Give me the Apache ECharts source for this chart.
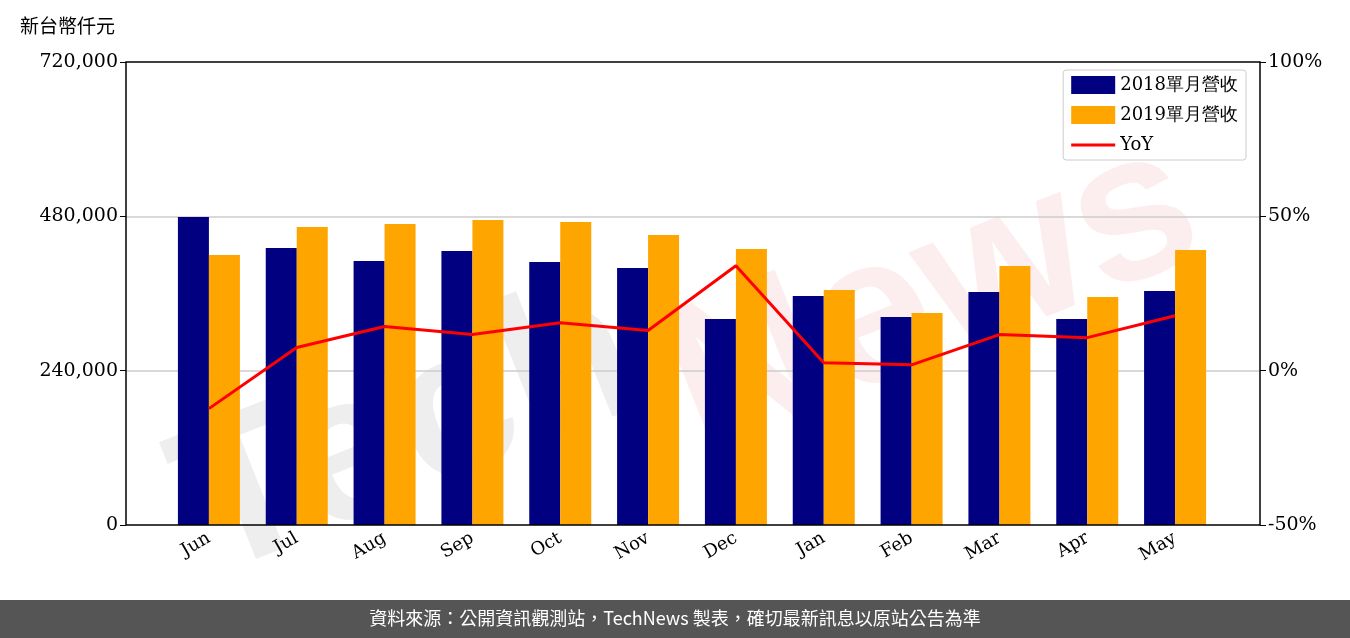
<!DOCTYPE html><html><head><meta charset="utf-8"><script src="https://cdn.jsdelivr.net/npm/echarts@6/dist/echarts.min.js"></script></head><body style="margin:0"><div id="c" style="width:1350px;height:638px"></div><script>
const categories=['Jun','Jul','Aug','Sep','Oct','Nov','Dec','Jan','Feb','Mar','Apr','May'];
const rev2018=[479000,430700,410500,426000,409000,399600,320300,356000,323400,362300,320300,363900];
const rev2019=[419800,463400,468000,474300,471200,451000,429200,365400,329700,402700,354500,427600];
const yoy=[-12.3,7.5,14.3,11.7,15.5,13,34,2.6,1.9,11.7,10.7,17.8];
const f='DejaVu Serif';
const ax={fontFamily:f,fontSize:19,color:'#000'};
const ch=echarts.init(document.getElementById('c'));
ch.setOption({animation:false,
graphic:[
{type:'text',left:150,top:250,rotation:0.38,z:-1,style:{text:'Tech',font:'bold 210px sans-serif',fill:'rgba(170,170,170,0.2)'}},
{type:'text',left:640,top:100,rotation:0.38,z:-1,style:{text:'News',font:'bold 210px sans-serif',fill:'rgba(230,120,120,0.13)'}},
{type:'rect',left:0,top:600,shape:{width:1350,height:38},style:{fill:'#555'}},
{type:'text',left:'center',top:609,style:{text:'資料來源：公開資訊觀測站，TechNews 製表，確切最新訊息以原站公告為準',font:'18px "Noto Sans CJK TC"',fill:'#fff'}},
{type:'text',left:20,top:16,style:{text:'新台幣仟元',font:'19px "Noto Sans CJK TC"',fill:'#000'}},
{type:'rect',z:100,silent:true,shape:{x:126,y:62,width:1134,height:463},style:{fill:'none',stroke:'#000',lineWidth:1.5}}],
grid:[{left:165,right:131,top:62,bottom:113},{left:126,right:90,top:62,bottom:113}],
legend:{right:104,top:70,orient:'vertical',itemWidth:44,itemHeight:18,itemGap:12,backgroundColor:'#fff',borderColor:'#ccc',borderWidth:1,borderRadius:3,padding:[6,8],textStyle:{fontFamily:f,fontSize:18,color:'#000'},
 data:[{name:'2018單月營收',icon:'rect'},{name:'2019單月營收',icon:'rect'},{name:'YoY',icon:'path://M0,8L44,8L44,11L0,11Z'}]},
xAxis:[{type:'category',gridIndex:0,data:categories,axisTick:{alignWithLabel:true,length:6,lineStyle:{color:'#000'}},axisLine:{show:false},axisLabel:{rotate:30,fontFamily:f,fontSize:18,color:'#000',margin:12}},
{type:'value',gridIndex:1,min:0,max:1,show:false}],
yAxis:[{type:'value',gridIndex:0,min:0,max:720000,show:false},
{type:'value',gridIndex:0,min:-50,max:100,show:false},
{type:'value',gridIndex:1,min:0,max:720000,interval:240000,axisLine:{show:false},axisTick:{show:true,length:6,lineStyle:{color:'#000'}},splitLine:{showMinLine:false,showMaxLine:false,lineStyle:{color:'#ccc',width:1.5}},axisLabel:Object.assign({formatter:v=>v.toLocaleString('en-US')},ax)},
{type:'value',gridIndex:1,position:'right',min:-50,max:100,interval:50,axisLine:{show:false},axisTick:{show:true,length:6,lineStyle:{color:'#000'}},splitLine:{show:false},axisLabel:Object.assign({formatter:'{value}%'},ax)}],
series:[
{name:'2018單月營收',type:'bar',data:rev2018,barWidth:31,barGap:'0%',itemStyle:{color:'#000080'}},
{name:'2019單月營收',type:'bar',data:rev2019,barWidth:31,itemStyle:{color:'#FFA500'}},
{name:'YoY',type:'line',yAxisIndex:1,data:yoy,symbol:'none',lineStyle:{color:'#ff0000',width:3},itemStyle:{color:'#ff0000'}}]
});
</script></body></html>
